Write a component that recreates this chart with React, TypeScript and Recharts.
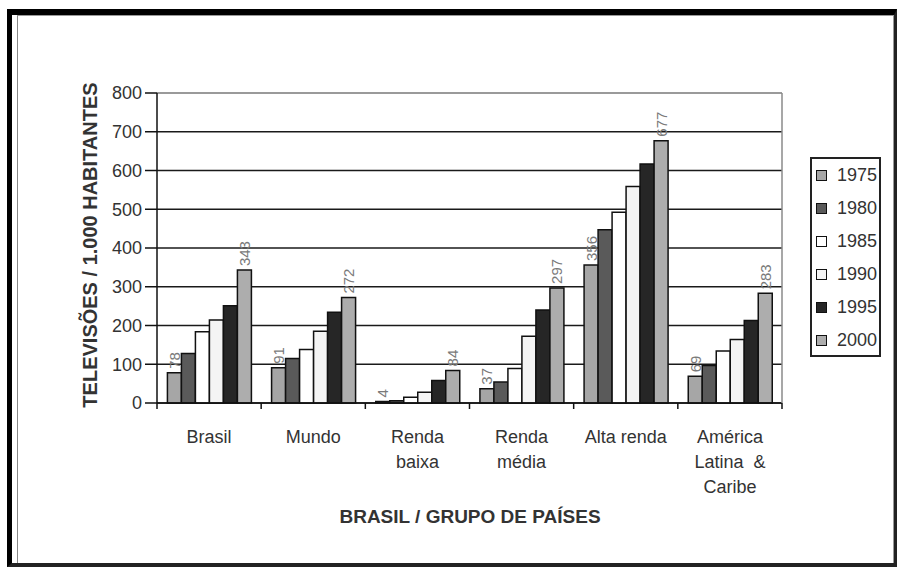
import React from 'react';
import {
  BarChart, Bar, XAxis, YAxis, CartesianGrid, Legend, LabelList, Label, ReferenceLine
} from 'recharts';

const categories = ['Brasil', 'Mundo', 'Renda baixa', 'Renda média', 'Alta renda', 'América Latina & Caribe'];
const categoryLines = [['Brasil'], ['Mundo'], ['Renda', 'baixa'], ['Renda', 'média'], ['Alta renda'], ['América', 'Latina  &', 'Caribe']];
const years = ['1975', '1980', '1985', '1990', '1995', '2000'];
const v1975 = [78, 91, 4, 37, 356, 69];
const v1980 = [128, 115, 6, 54, 447, 97];
const v1985 = [184, 138, 15, 89, 492, 134];
const v1990 = [214, 185, 28, 172, 559, 164];
const v1995 = [251, 234, 58, 240, 617, 213];
const v2000 = [343, 272, 84, 297, 677, 283];
const yTicks = [0, 100, 200, 300, 400, 500, 600, 700, 800];

const yearColors = ['#a6a6a6', '#5a5a5a', '#ffffff', '#f4f4f4', '#262626', '#adadad'];
const labelled = ['1975', '2000'];

const data = categories.map((name, i) => ({
  name,
  '1975': v1975[i],
  '1980': v1980[i],
  '1985': v1985[i],
  '1990': v1990[i],
  '1995': v1995[i],
  '2000': v2000[i],
}));

const FONT = "'Liberation Sans', Arial, sans-serif";
const MARGIN = { top: 93, right: 114, bottom: 134, left: 0 };
const Y_WIDTH = 157;
const PLOT_W = 897 - MARGIN.right - 1 - Y_WIDTH;
const BAND = PLOT_W / categories.length;

const ValueLabel = (props: any) => {
  const { x, y, width, value } = props;
  const cx = x + width / 2;
  const ty = y - 4;
  return (
    <text
      x={cx}
      y={ty}
      transform={`rotate(-90, ${cx}, ${ty})`}
      textAnchor="start"
      dominantBaseline="central"
      fontSize={15}
      fill="#7a7a7a"
      fontFamily={FONT}
    >
      {value}
    </text>
  );
};

// category label + tick marks on the boundaries between groups
const CategoryTick = (props: any) => {
  const { x, y, index } = props;
  const lines = categoryLines[index] || [];
  const left = x - BAND / 2;
  const right = x + BAND / 2;
  return (
    <g>
      <line x1={left} y1={y} x2={left} y2={y + 6} stroke="#111" strokeWidth={1.5} />
      {index === categories.length - 1 && (
        <line x1={right} y1={y} x2={right} y2={y + 6} stroke="#111" strokeWidth={1.5} />
      )}
      <text x={x} y={y} textAnchor="middle" fontSize={18} fill="#333" fontFamily={FONT}>
        {lines.map((l, i) => (
          <tspan key={i} x={x} dy={i === 0 ? 40 : 25} style={{ whiteSpace: 'pre' }}>{l}</tspan>
        ))}
      </text>
    </g>
  );
};

const LegendBox = () => (
  <div
    style={{
      width: 71,
      height: 200,
      border: '2px solid #222',
      boxSizing: 'border-box',
      background: '#fff',
      overflow: 'hidden',
      fontFamily: FONT,
    }}
  >
    {years.map((y, i) => (
      <div key={y} style={{ height: 33, display: 'flex', alignItems: 'center', whiteSpace: 'nowrap' }}>
        <span
          style={{
            display: 'inline-block',
            width: 9,
            height: 9,
            marginLeft: 4,
            marginRight: 10,
            background: yearColors[i],
            border: '1.5px solid #111',
            flex: 'none',
          }}
        />
        <span style={{ fontSize: 18, color: '#333' }}>{y}</span>
      </div>
    ))}
  </div>
);

const App: React.FC = () => {
  return (
    <div style={{ position: 'absolute', left: 0, top: 0, width: 897, height: 567, background: '#fff' }}>
      <div
        style={{
          position: 'absolute',
          left: 7,
          top: 9,
          width: 890,
          height: 558,
          boxSizing: 'border-box',
          borderLeft: '5px solid #000',
          borderTop: '6px solid #000',
          borderRight: '3px solid #222',
          borderBottom: '4px solid #222',
        }}
      />
      <div
        style={{
          position: 'absolute',
          left: 17,
          top: 15,
          width: 877,
          height: 548,
          boxSizing: 'border-box',
          borderLeft: '1.5px solid #888',
          borderTop: '1px solid #999',
          borderRight: '1px solid #999',
        }}
      />
      <div style={{ position: 'absolute', left: 0, top: 0 }}>
        <BarChart
          width={897}
          height={567}
          data={data}
          margin={MARGIN}
          barCategoryGap="10%"
          barGap={0}
        >
          <CartesianGrid vertical={false} stroke="#1a1a1a" strokeWidth={1.5} />
          <XAxis
            dataKey="name"
            interval={0}
            height={30}
            tickSize={0}
            tickMargin={0}
            tickLine={false}
            axisLine={{ stroke: '#111', strokeWidth: 1.5 }}
            tick={<CategoryTick />}
          >
            <Label
              content={() => (
                <text x={470} y={523} textAnchor="middle" fontSize={19} fontWeight="bold" fill="#333" fontFamily={FONT}>
                  BRASIL / GRUPO DE PAÍSES
                </text>
              )}
            />
          </XAxis>
          <YAxis
            width={Y_WIDTH}
            domain={[0, 800]}
            ticks={yTicks}
            interval={0}
            tickSize={12}
            tickMargin={3}
            axisLine={{ stroke: '#111', strokeWidth: 1.5 }}
            tickLine={{ stroke: '#111', strokeWidth: 1.5 }}
            tick={{ fontSize: 18, fill: '#333', fontFamily: FONT }}
          >
            <Label
              content={() => (
                <text
                  x={90}
                  y={245}
                  transform="rotate(-90, 90, 245)"
                  textAnchor="middle"
                  dominantBaseline="central"
                  fontSize={20}
                  fontWeight="bold"
                  fill="#333"
                  fontFamily={FONT}
                >
                  TELEVISÕES / 1.000 HABITANTES
                </text>
              )}
            />
          </YAxis>
          <YAxis
            yAxisId="frame"
            orientation="right"
            width={1}
            domain={[0, 800]}
            tick={false}
            tickLine={false}
            axisLine={{ stroke: '#8a8a8a', strokeWidth: 1.5 }}
          />
          <ReferenceLine y={800} stroke="#9a9a9a" strokeWidth={2} />
          <Legend
            layout="vertical"
            align="center"
            verticalAlign="middle"
            content={<LegendBox />}
            wrapperStyle={{ left: 810, top: 157, width: 71, height: 200 }}
          />
          {years.map((y, i) => (
            <Bar
              key={y}
              dataKey={y}
              fill={yearColors[i]}
              stroke="#111"
              strokeWidth={1.5}
              isAnimationActive={false}
            >
              {labelled.includes(y) && <LabelList dataKey={y} content={<ValueLabel />} />}
            </Bar>
          ))}
        </BarChart>
      </div>
    </div>
  );
};

export default App;
